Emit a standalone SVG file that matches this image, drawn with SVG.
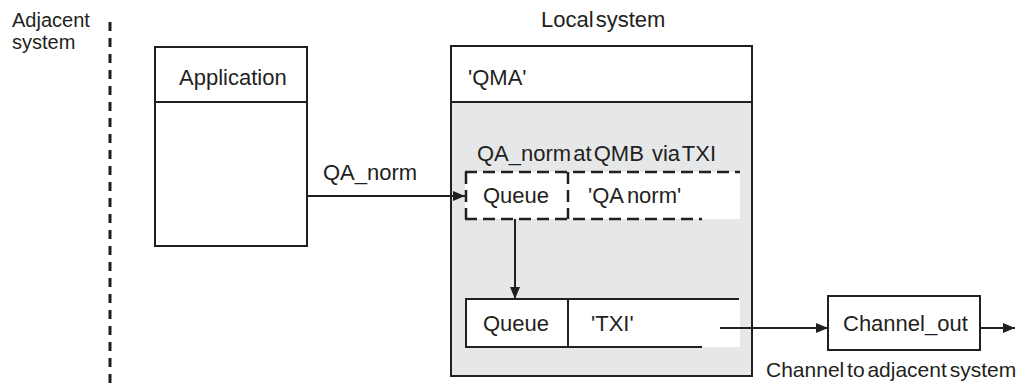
<svg xmlns="http://www.w3.org/2000/svg" width="1029" height="385" viewBox="0 0 1029 385">
<style>
text{font-family:"Liberation Sans",Arial,sans-serif;font-size:22px;fill:#231f20;word-spacing:-4px}
.sm{font-size:20px}
.box{fill:#fff;stroke:#231f20;stroke-width:2}
.ln{stroke:#231f20;stroke-width:2;fill:none}
.dash{stroke:#231f20;stroke-width:2.5;fill:none;stroke-dasharray:12 6}
</style>
<defs>
<marker id="ah" markerWidth="12" markerHeight="10" refX="12" refY="5" orient="auto" markerUnits="userSpaceOnUse">
<path d="M0,0 L12,5 L0,10 z" fill="#231f20"/>
</marker>
</defs>
<g id="adjacent">
<text class="sm" x="12" y="27">Adjacent</text>
<text class="sm" x="12" y="49">system</text>
<line x1="110" y1="22" x2="110" y2="385" stroke="#231f20" stroke-width="3" stroke-dasharray="9 7"/>
</g>
<g id="application">
<rect class="box" x="155" y="47" width="152" height="199"/>
<line class="ln" x1="155" y1="102" x2="307" y2="102"/>
<text x="179" y="85">Application</text>
</g>
<g id="local-system">
<text x="541" y="27">Local system</text>
<rect x="451" y="102" width="301" height="274" fill="#e6e7e8"/>
<rect x="451" y="46" width="301" height="330" fill="none" stroke="#231f20" stroke-width="2"/>
<line class="ln" x1="451" y1="102" x2="752" y2="102"/>
<text x="468" y="85">'QMA'</text>
</g>
<g id="remote-queue">
<text x="477" y="161">QA_norm at QMB <tspan dx="6">via TXI</tspan></text>
<rect x="465" y="172" width="275" height="47" fill="#fff"/>
<path class="dash" d="M465,172 H740 M465,219 H702 M466,172 V219 M568,172 V219"/>
<text x="483" y="203">Queue</text>
<text x="588" y="203" style="word-spacing:-2px">'QA norm'</text>
</g>
<g id="transmission-queue">
<rect x="466" y="299" width="274" height="48" fill="#fff"/>
<path class="ln" d="M739,299 H466 V347 H702 M568,299 V347"/>
<text x="483" y="331">Queue</text>
<text x="591" y="331">'TXI'</text>
</g>
<g id="channel-out">
<rect class="box" x="828" y="296" width="152" height="54"/>
<text x="843" y="331">Channel_out</text>
<text x="766" y="377" style="font-size:21px;word-spacing:-3px">Channel to adjacent system</text>
</g>
<g id="connectors">
<line class="ln" x1="307" y1="196" x2="465" y2="196" marker-end="url(#ah)"/>
<text x="323" y="180">QA_norm</text>
<line class="ln" x1="515" y1="219" x2="515" y2="299" marker-end="url(#ah)"/>
<line class="ln" x1="720" y1="328" x2="828" y2="328" marker-end="url(#ah)"/>
<line class="ln" x1="980" y1="328" x2="1015" y2="328" marker-end="url(#ah)"/>
</g>
</svg>
